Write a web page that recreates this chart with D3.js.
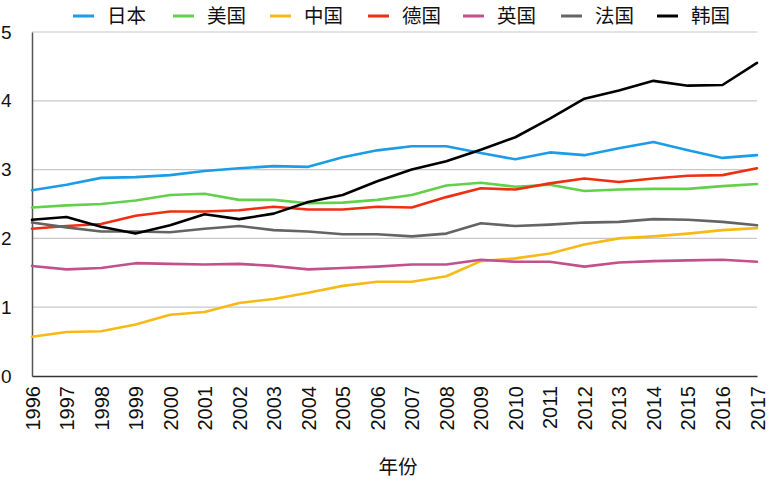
<!DOCTYPE html>
<html><head><meta charset="utf-8">
<script src="https://cdn.jsdelivr.net/npm/d3@7"></script>
<style>body{margin:0;background:#fff}svg{display:block}</style>
</head><body><svg id="c" width="769" height="481"></svg>
<script>
const years = [1996,1997,1998,1999,2000,2001,2002,2003,2004,2005,2006,2007,2008,2009,2010,2011,2012,2013,2014,2015,2016,2017];
const japan   = [2.70,2.78,2.88,2.89,2.92,2.98,3.02,3.05,3.04,3.18,3.28,3.34,3.34,3.24,3.15,3.25,3.21,3.31,3.40,3.28,3.17,3.21];
const usa     = [2.45,2.48,2.50,2.55,2.63,2.65,2.56,2.56,2.51,2.52,2.56,2.63,2.77,2.81,2.75,2.78,2.69,2.71,2.72,2.72,2.76,2.79];
const china   = [0.57,0.64,0.65,0.75,0.89,0.93,1.06,1.12,1.21,1.31,1.37,1.37,1.45,1.67,1.71,1.78,1.91,2.00,2.03,2.07,2.12,2.15];
const germany = [2.14,2.18,2.21,2.33,2.39,2.39,2.41,2.46,2.42,2.42,2.46,2.45,2.60,2.73,2.71,2.80,2.87,2.82,2.87,2.91,2.92,3.02];
const uk      = [1.60,1.55,1.57,1.64,1.63,1.62,1.63,1.60,1.55,1.57,1.59,1.62,1.62,1.69,1.66,1.66,1.59,1.65,1.67,1.68,1.69,1.66];
const france  = [2.23,2.16,2.10,2.10,2.09,2.14,2.18,2.12,2.10,2.06,2.06,2.03,2.07,2.22,2.18,2.20,2.23,2.24,2.28,2.27,2.24,2.19];
const korea   = [2.27,2.31,2.17,2.07,2.19,2.35,2.28,2.36,2.53,2.63,2.83,3.00,3.12,3.29,3.47,3.74,4.03,4.15,4.29,4.22,4.23,4.55];
const seriesNames = ["日本","美国","中国","德国","英国","法国","韩国"];
const seriesValues = [japan, usa, china, germany, uk, france, korea];
const colors = ["#1a9de6","#62d04a","#f7b916","#ef2e12","#c2508c","#646464","#000000"];
const yTicks = [0,1,2,3,4,5];

const svg = d3.select("#c");
const font = "'Liberation Sans', Arial, Helvetica, sans-serif";
const cjk = "'Noto Sans CJK SC', sans-serif";
const x = d3.scalePoint().domain(years).range([32, 757]);
const y = d3.scaleLinear().domain([0,5]).range([376, 32]);

// gridlines
svg.append("g").selectAll("line").data(yTicks.filter(d=>d>0)).join("line")
  .attr("x1",32).attr("x2",757).attr("y1",d=>y(d)).attr("y2",d=>y(d))
  .attr("stroke","#c8c8c8").attr("stroke-width",1.2);

// y axis
const ya = svg.append("g").attr("transform","translate(32,0)")
  .call(d3.axisLeft(y).tickValues(yTicks).tickSize(0).tickPadding(14).tickFormat(d3.format("d")));
ya.select(".domain").attr("stroke","#555").attr("stroke-width",1.5);
ya.selectAll("text").attr("font-family",font).attr("font-size",19).attr("fill","#111").attr("text-anchor","start").attr("x",-31);

// x axis
const xa = svg.append("g").attr("transform","translate(0,376)")
  .call(d3.axisBottom(x).tickSize(0).tickPadding(0));
xa.select(".domain").attr("stroke","#333").attr("stroke-width",1.5);
xa.selectAll("text").attr("font-family",font).attr("font-size",20).attr("fill","#111")
  .attr("transform","rotate(-90)").attr("text-anchor","end").attr("x",-10).attr("y",0).attr("dy","0.35em");

// lines
const line = d3.line().x((d,i)=>x(years[i])).y(d=>y(d));
svg.append("g").selectAll("path").data(seriesValues).join("path")
  .attr("d",line).attr("fill","none").attr("stroke",(d,i)=>colors[i])
  .attr("stroke-width",2.6).attr("stroke-linejoin","round").attr("stroke-linecap","round");

// legend
const legX = [73,173,270,368,463,561,657];
const lg = svg.append("g").selectAll("g").data(seriesNames).join("g")
  .attr("transform",(d,i)=>`translate(${legX[i]},16)`);
lg.append("line").attr("x1",0).attr("x2",21).attr("y1",0).attr("y2",0)
  .attr("stroke",(d,i)=>colors[i]).attr("stroke-width",3);
lg.append("text").attr("x",34).attr("y",0).attr("dy","0.36em").text(d=>d)
  .attr("font-family",cjk).attr("font-size",19.5).attr("fill","#111");

// x title
svg.append("text").attr("x",398).attr("y",467).attr("dy","0.35em").attr("text-anchor","middle")
  .attr("font-family",cjk).attr("font-size",19.5).attr("fill","#111").text("年份");
</script></body></html>
